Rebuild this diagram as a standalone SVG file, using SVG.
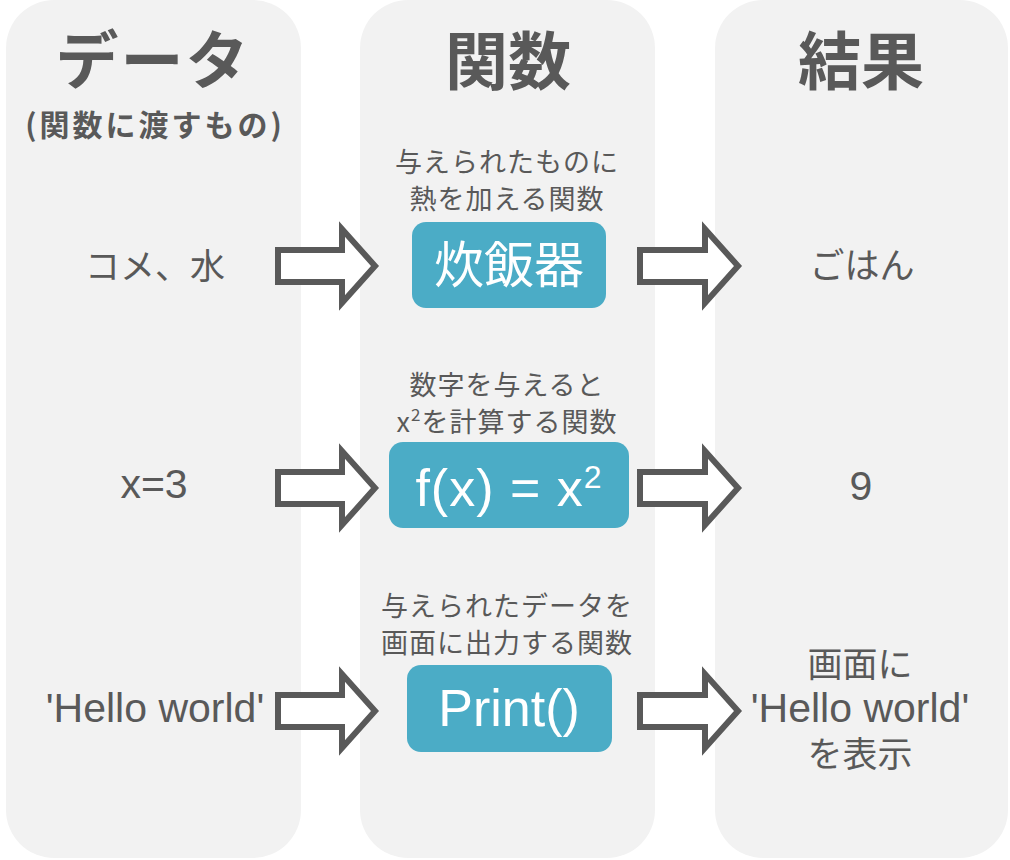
<svg xmlns="http://www.w3.org/2000/svg" width="1010" height="860" viewBox="0 0 1010 860">
<style>
.col{fill:#f2f2f2}
.box{fill:#4bacc6}
.arr{fill:#ffffff;stroke:#595959;stroke-width:6;stroke-linejoin:miter}
.t{fill:#595959;text-anchor:middle;font-family:"Noto Sans CJK JP","Liberation Sans",sans-serif}
.title{font-size:63px;font-weight:700}
.sub{font-size:30px;font-weight:700;letter-spacing:3px}
.desc{font-size:27px;letter-spacing:1px}
.cj{font-size:35px}
.lat{font-family:"Liberation Sans","Noto Sans CJK JP",sans-serif;font-size:41px}
.w{fill:#ffffff;text-anchor:middle}
.bj{font-family:"Noto Sans CJK JP",sans-serif;font-size:50px}
.bl{font-family:"Liberation Sans","Noto Sans CJK JP",sans-serif;font-size:52px}
</style>
<defs>
<path id="arrL" d="M278,250 H342 V229 L375,266 L342,303 V282 H278 Z"/>
<path id="arrR" d="M640,250 H705 V229 L738,266 L705,303 V282 H640 Z"/>
</defs>
<g id="columns">
<rect class="col" x="6" y="0" width="295" height="858" rx="48"/>
<rect class="col" x="360" y="0" width="295" height="858" rx="48"/>
<rect class="col" x="715" y="0" width="293" height="858" rx="48"/>
</g>
<g id="headers">
<text class="t title" x="153" y="83" letter-spacing="2">データ</text>
<text class="t sub" x="155" y="136">(関数に渡すもの)</text>
<text class="t title" x="508" y="84">関数</text>
<text class="t title" x="861" y="84">結果</text>
</g>
<g id="connectors">
<use href="#arrL" class="arr"/>
<use href="#arrR" class="arr"/>
<use href="#arrL" class="arr" transform="translate(0,222)"/>
<use href="#arrR" class="arr" transform="translate(0,222)"/>
<use href="#arrL" class="arr" transform="translate(0,445)"/>
<use href="#arrR" class="arr" transform="translate(0,445)"/>
</g>
<g id="input1"><text class="t cj" x="155" y="279">コメ、水</text></g>
<g id="input2"><text class="t lat" x="154" y="498">x=3</text></g>
<g id="input3"><text class="t lat" x="155" y="722">'Hello world'</text></g>
<g id="func1">
<text class="t desc" x="507" y="172">与えられたものに</text>
<text class="t desc" x="507" y="209">熱を加える関数</text>
<rect class="box" x="412" y="222" width="194" height="86" rx="14"/>
<text class="w bj" x="509" y="283">炊飯器</text>
</g>
<g id="func2">
<text class="t desc" x="507" y="395">数字を与えると</text>
<text class="t desc" x="507" y="432">x<tspan font-size="17" dy="-11">2</tspan><tspan dy="11">を計算する関数</tspan></text>
<rect class="box" x="389" y="442" width="240" height="86" rx="14"/>
<text class="w bl" x="509" y="506" letter-spacing="1">f(x) = x<tspan font-size="32" dy="-18">2</tspan></text>
</g>
<g id="func3">
<text class="t desc" x="507" y="616">与えられたデータを</text>
<text class="t desc" x="507" y="653">画面に出力する関数</text>
<rect class="box" x="407" y="665" width="205" height="87" rx="14"/>
<text class="w bl" x="509" y="726">Print()</text>
</g>
<g id="result1"><text class="t cj" x="862" y="278">ごはん</text></g>
<g id="result2"><text class="t lat" x="861" y="500">9</text></g>
<g id="result3">
<text class="t cj" x="860" y="677">画面に</text>
<text class="t lat" x="860" y="722">'Hello world'</text>
<text class="t cj" x="860" y="767">を表示</text>
</g>
</svg>
